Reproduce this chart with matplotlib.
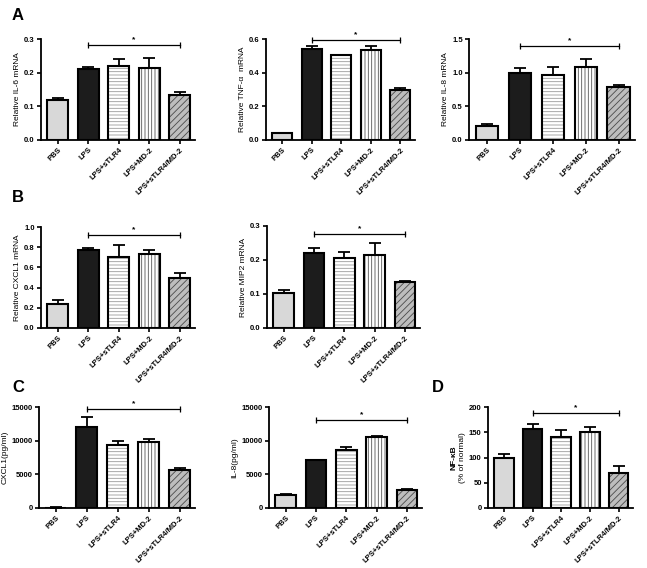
import numpy as np
import matplotlib
matplotlib.use("Agg")
from matplotlib import pyplot as plt

plt.rcParams['font.family'] = ['Liberation Sans', 'DejaVu Sans']
plt.rcParams['font.weight'] = 'bold'
plt.rcParams['hatch.linewidth'] = 0.6

groups = ['PBS', 'LPS', 'LPS+sTLR4', 'LPS+MD-2', 'LPS+sTLR4/MD-2']

il6 = [0.120, 0.210, 0.220, 0.215, 0.135]
il6_err = [0.004, 0.007, 0.022, 0.028, 0.007]
tnf = [0.040, 0.540, 0.502, 0.535, 0.295]
tnf_err = [0.003, 0.020, 0.005, 0.022, 0.012]
il8 = [0.21, 1.00, 0.96, 1.08, 0.79]
il8_err = [0.025, 0.065, 0.13, 0.12, 0.03]
cxcl1 = [0.24, 0.77, 0.70, 0.73, 0.50]
cxcl1_err = [0.035, 0.02, 0.12, 0.045, 0.04]
mip2 = [0.103, 0.222, 0.205, 0.214, 0.134]
mip2_err = [0.010, 0.012, 0.020, 0.037, 0.003]
cxcl1_pg = [60, 12000, 9400, 9800, 5700]
cxcl1_pg_err = [30, 1500, 500, 400, 300]
il8_pg = [2000, 7100, 8600, 10500, 2650]
il8_pg_err = [100, 100, 400, 250, 100]
nfkb = [100, 157, 140, 150, 70]
nfkb_err = [6, 9, 14, 10, 13]

W, H = 647, 568
fig = plt.figure(figsize=(W / 100, H / 100), dpi=100)


def rect(left, top, right, bottom):
    return [left / W, 1 - bottom / H, (right - left) / W, (bottom - top) / H]


# fill colour, hatch, hatch colour
styles = [('#d8d8d8', None, None),
          ('#1c1c1c', None, None),
          ('white', '-----', '#999999'),
          ('white', '|||||', '#555555'),
          ('#bdbdbd', '/////', '#4a4a4a')]


def panel(box, vals, errs, ymax, ticks, ylabel, bracket, fmt='%.1f'):
    ax = fig.add_axes(rect(*box))
    x = np.arange(len(vals))
    for i, (fc, hatch, hc) in enumerate(styles):
        if hatch:
            ax.bar(x[i], vals[i], width=0.68, color=fc, hatch=hatch,
                   edgecolor=hc, linewidth=0, zorder=2)
            ax.bar(x[i], vals[i], width=0.68, fill=False,
                   edgecolor='black', linewidth=1.5, zorder=3)
        else:
            ax.bar(x[i], vals[i], width=0.68, color=fc,
                   edgecolor='black', linewidth=1.5, zorder=3)
    ax.errorbar(x, vals, yerr=[np.zeros(len(errs)), errs], fmt='none',
                ecolor='black', elinewidth=1.3, capsize=4, capthick=1.3,
                zorder=1)
    ax.set_xlim(-0.55, 4.5)
    ax.set_ylim(0, ymax)
    ax.set_yticks(ticks)
    ax.set_yticklabels([fmt % t for t in ticks])
    ax.set_xticks(x)
    ax.set_xticklabels(groups, rotation=45, ha='right',
                       rotation_mode='anchor')
    ax.tick_params(labelsize=5.5, width=1.2, length=3, pad=1.5)
    for s in ['top', 'right']:
        ax.spines[s].set_visible(False)
    for s in ['left', 'bottom']:
        ax.spines[s].set_linewidth(1.3)
    if ylabel:
        ax.set_ylabel(ylabel, fontsize=6, labelpad=2)
    yb = bracket * ymax
    ax.plot([1, 4], [yb, yb], color='black', lw=0.9, clip_on=False)
    ax.plot([1, 4], [yb, yb], ls='none', marker='|', ms=5, mew=0.9,
            color='black', clip_on=False)
    ax.text(2.5, yb + 0.02 * ymax, '*', ha='center', va='bottom',
            fontsize=6)
    return ax


panel((41, 39, 195, 140), il6, il6_err, 0.3, [0, 0.1, 0.2, 0.3],
      'Relative IL-6 mRNA', 0.94)
panel((266, 39, 415, 140), tnf, tnf_err, 0.6, [0, 0.2, 0.4, 0.6],
      'Relative TNF-α  mRNA', 0.99)
panel((469, 39, 635, 140), il8, il8_err, 1.5, [0, 0.5, 1.0, 1.5],
      'Relative IL-8 mRNA', 0.93)
panel((41, 227, 195, 328), cxcl1, cxcl1_err, 1.0,
      [0, 0.2, 0.4, 0.6, 0.8, 1.0], 'Relative CXCL1 mRNA', 0.92)
panel((267, 226, 420, 328), mip2, mip2_err, 0.3, [0, 0.1, 0.2, 0.3],
      'Relative MIP2 mRNA', 0.92)
panel((39, 407, 195, 508), cxcl1_pg, cxcl1_pg_err, 15000,
      [0, 5000, 10000, 15000], 'CXCL1(pg/ml)', 0.98, fmt='%d')
panel((269, 407, 422, 508), il8_pg, il8_pg_err, 15000,
      [0, 5000, 10000, 15000], 'IL-8(pg/ml)', 0.87, fmt='%d')
axd = panel((488, 407, 633, 508), nfkb, nfkb_err, 200,
            [0, 50, 100, 150, 200], '', 0.94, fmt='%d')
axd.text(-0.235, 0.5, 'NF-κB', transform=axd.transAxes, rotation=90,
         ha='center', va='center', fontsize=6)
axd.text(-0.175, 0.5, '(% of normal)', transform=axd.transAxes,
         rotation=90, ha='center', va='center', fontsize=6,
         fontweight='normal')

for letter, px, py in [('A', 12, 16), ('B', 12, 198), ('C', 12, 388),
                       ('D', 432, 388)]:
    fig.text(px / W, 1 - py / H, letter, fontsize=12, va='center',
             ha='left')

fig.savefig('out.png', dpi=100)
